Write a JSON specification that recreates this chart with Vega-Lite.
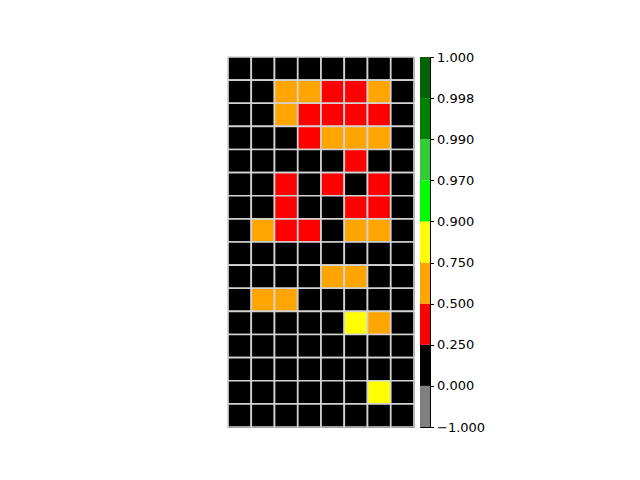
{
  "$schema": "https://vega.github.io/schema/vega-lite/v6.json",
  "padding": {"left": 226, "top": 50, "right": 0, "bottom": 0},
  "background": "white",
  "config": {"view": {"stroke": "black", "strokeWidth": 1}},
  "spacing": 3,
  "hconcat": [
    {
      "width": 186,
      "height": 370,
      "data": {"values": [
        {"r":0,"c":0,"v":0.1},{"r":0,"c":1,"v":0.1},{"r":0,"c":2,"v":0.1},{"r":0,"c":3,"v":0.1},{"r":0,"c":4,"v":0.1},{"r":0,"c":5,"v":0.1},{"r":0,"c":6,"v":0.1},{"r":0,"c":7,"v":0.1},
        {"r":1,"c":0,"v":0.1},{"r":1,"c":1,"v":0.1},{"r":1,"c":2,"v":0.6},{"r":1,"c":3,"v":0.6},{"r":1,"c":4,"v":0.4},{"r":1,"c":5,"v":0.4},{"r":1,"c":6,"v":0.6},{"r":1,"c":7,"v":0.1},
        {"r":2,"c":0,"v":0.1},{"r":2,"c":1,"v":0.1},{"r":2,"c":2,"v":0.6},{"r":2,"c":3,"v":0.4},{"r":2,"c":4,"v":0.4},{"r":2,"c":5,"v":0.4},{"r":2,"c":6,"v":0.4},{"r":2,"c":7,"v":0.1},
        {"r":3,"c":0,"v":0.1},{"r":3,"c":1,"v":0.1},{"r":3,"c":2,"v":0.1},{"r":3,"c":3,"v":0.4},{"r":3,"c":4,"v":0.6},{"r":3,"c":5,"v":0.6},{"r":3,"c":6,"v":0.6},{"r":3,"c":7,"v":0.1},
        {"r":4,"c":0,"v":0.1},{"r":4,"c":1,"v":0.1},{"r":4,"c":2,"v":0.1},{"r":4,"c":3,"v":0.1},{"r":4,"c":4,"v":0.1},{"r":4,"c":5,"v":0.4},{"r":4,"c":6,"v":0.1},{"r":4,"c":7,"v":0.1},
        {"r":5,"c":0,"v":0.1},{"r":5,"c":1,"v":0.1},{"r":5,"c":2,"v":0.4},{"r":5,"c":3,"v":0.1},{"r":5,"c":4,"v":0.4},{"r":5,"c":5,"v":0.1},{"r":5,"c":6,"v":0.4},{"r":5,"c":7,"v":0.1},
        {"r":6,"c":0,"v":0.1},{"r":6,"c":1,"v":0.1},{"r":6,"c":2,"v":0.4},{"r":6,"c":3,"v":0.1},{"r":6,"c":4,"v":0.1},{"r":6,"c":5,"v":0.4},{"r":6,"c":6,"v":0.4},{"r":6,"c":7,"v":0.1},
        {"r":7,"c":0,"v":0.1},{"r":7,"c":1,"v":0.6},{"r":7,"c":2,"v":0.4},{"r":7,"c":3,"v":0.4},{"r":7,"c":4,"v":0.1},{"r":7,"c":5,"v":0.6},{"r":7,"c":6,"v":0.6},{"r":7,"c":7,"v":0.1},
        {"r":8,"c":0,"v":0.1},{"r":8,"c":1,"v":0.1},{"r":8,"c":2,"v":0.1},{"r":8,"c":3,"v":0.1},{"r":8,"c":4,"v":0.1},{"r":8,"c":5,"v":0.1},{"r":8,"c":6,"v":0.1},{"r":8,"c":7,"v":0.1},
        {"r":9,"c":0,"v":0.1},{"r":9,"c":1,"v":0.1},{"r":9,"c":2,"v":0.1},{"r":9,"c":3,"v":0.1},{"r":9,"c":4,"v":0.6},{"r":9,"c":5,"v":0.6},{"r":9,"c":6,"v":0.1},{"r":9,"c":7,"v":0.1},
        {"r":10,"c":0,"v":0.1},{"r":10,"c":1,"v":0.6},{"r":10,"c":2,"v":0.6},{"r":10,"c":3,"v":0.1},{"r":10,"c":4,"v":0.1},{"r":10,"c":5,"v":0.1},{"r":10,"c":6,"v":0.1},{"r":10,"c":7,"v":0.1},
        {"r":11,"c":0,"v":0.1},{"r":11,"c":1,"v":0.1},{"r":11,"c":2,"v":0.1},{"r":11,"c":3,"v":0.1},{"r":11,"c":4,"v":0.1},{"r":11,"c":5,"v":0.8},{"r":11,"c":6,"v":0.6},{"r":11,"c":7,"v":0.1},
        {"r":12,"c":0,"v":0.1},{"r":12,"c":1,"v":0.1},{"r":12,"c":2,"v":0.1},{"r":12,"c":3,"v":0.1},{"r":12,"c":4,"v":0.1},{"r":12,"c":5,"v":0.1},{"r":12,"c":6,"v":0.1},{"r":12,"c":7,"v":0.1},
        {"r":13,"c":0,"v":0.1},{"r":13,"c":1,"v":0.1},{"r":13,"c":2,"v":0.1},{"r":13,"c":3,"v":0.1},{"r":13,"c":4,"v":0.1},{"r":13,"c":5,"v":0.1},{"r":13,"c":6,"v":0.1},{"r":13,"c":7,"v":0.1},
        {"r":14,"c":0,"v":0.1},{"r":14,"c":1,"v":0.1},{"r":14,"c":2,"v":0.1},{"r":14,"c":3,"v":0.1},{"r":14,"c":4,"v":0.1},{"r":14,"c":5,"v":0.1},{"r":14,"c":6,"v":0.8},{"r":14,"c":7,"v":0.1},
        {"r":15,"c":0,"v":0.1},{"r":15,"c":1,"v":0.1},{"r":15,"c":2,"v":0.1},{"r":15,"c":3,"v":0.1},{"r":15,"c":4,"v":0.1},{"r":15,"c":5,"v":0.1},{"r":15,"c":6,"v":0.1},{"r":15,"c":7,"v":0.1}
      ]},
      "mark": {"type": "rect", "stroke": "#d3d3d3", "strokeWidth": 1.7},
      "encoding": {
        "x": {"field": "c", "type": "ordinal", "axis": null, "scale": {"paddingInner": 0, "paddingOuter": 0}},
        "y": {"field": "r", "type": "ordinal", "axis": null, "scale": {"paddingInner": 0, "paddingOuter": 0}},
        "color": {
          "field": "v", "type": "quantitative", "legend": null,
          "scale": {"type": "threshold", "domain": [0, 0.25, 0.5, 0.75, 0.9, 0.97, 0.99, 0.998],
            "range": ["#808080", "#000000", "#ff0000", "#ffa500", "#ffff00", "#00ff00", "#32cd32", "#008000", "#006400"]}
        }
      }
    },
    {
      "width": 10,
      "height": 370,
      "data": {"values": [
        {"k": 0, "k1": 1, "lo": -1},
        {"k": 1, "k1": 2, "lo": 0},
        {"k": 2, "k1": 3, "lo": 0.25},
        {"k": 3, "k1": 4, "lo": 0.5},
        {"k": 4, "k1": 5, "lo": 0.75},
        {"k": 5, "k1": 6, "lo": 0.9},
        {"k": 6, "k1": 7, "lo": 0.97},
        {"k": 7, "k1": 8, "lo": 0.99},
        {"k": 8, "k1": 9, "lo": 0.998}
      ]},
      "mark": {"type": "rect"},
      "encoding": {
        "y": {"field": "k", "type": "quantitative", "scale": {"domain": [0, 9], "nice": false, "zero": false},
          "axis": {"orient": "right", "values": [0,1,2,3,4,5,6,7,8,9], "title": null, "grid": false, "domain": false,
            "tickColor": "black", "tickSize": 3.5, "tickWidth": 1, "labelPadding": 3,
            "labelFont": "DejaVu Sans", "labelFontSize": 13, "labelColor": "black",
            "labelExpr": "['\u22121.000','0.000','0.250','0.500','0.750','0.900','0.970','0.990','0.998','1.000'][datum.value]"}},
        "y2": {"field": "k1"},
        "color": {
          "field": "lo", "type": "quantitative", "legend": null,
          "scale": {"type": "threshold", "domain": [0, 0.25, 0.5, 0.75, 0.9, 0.97, 0.99, 0.998],
            "range": ["#808080", "#000000", "#ff0000", "#ffa500", "#ffff00", "#00ff00", "#32cd32", "#008000", "#006400"]}
        }
      }
    }
  ]
}
